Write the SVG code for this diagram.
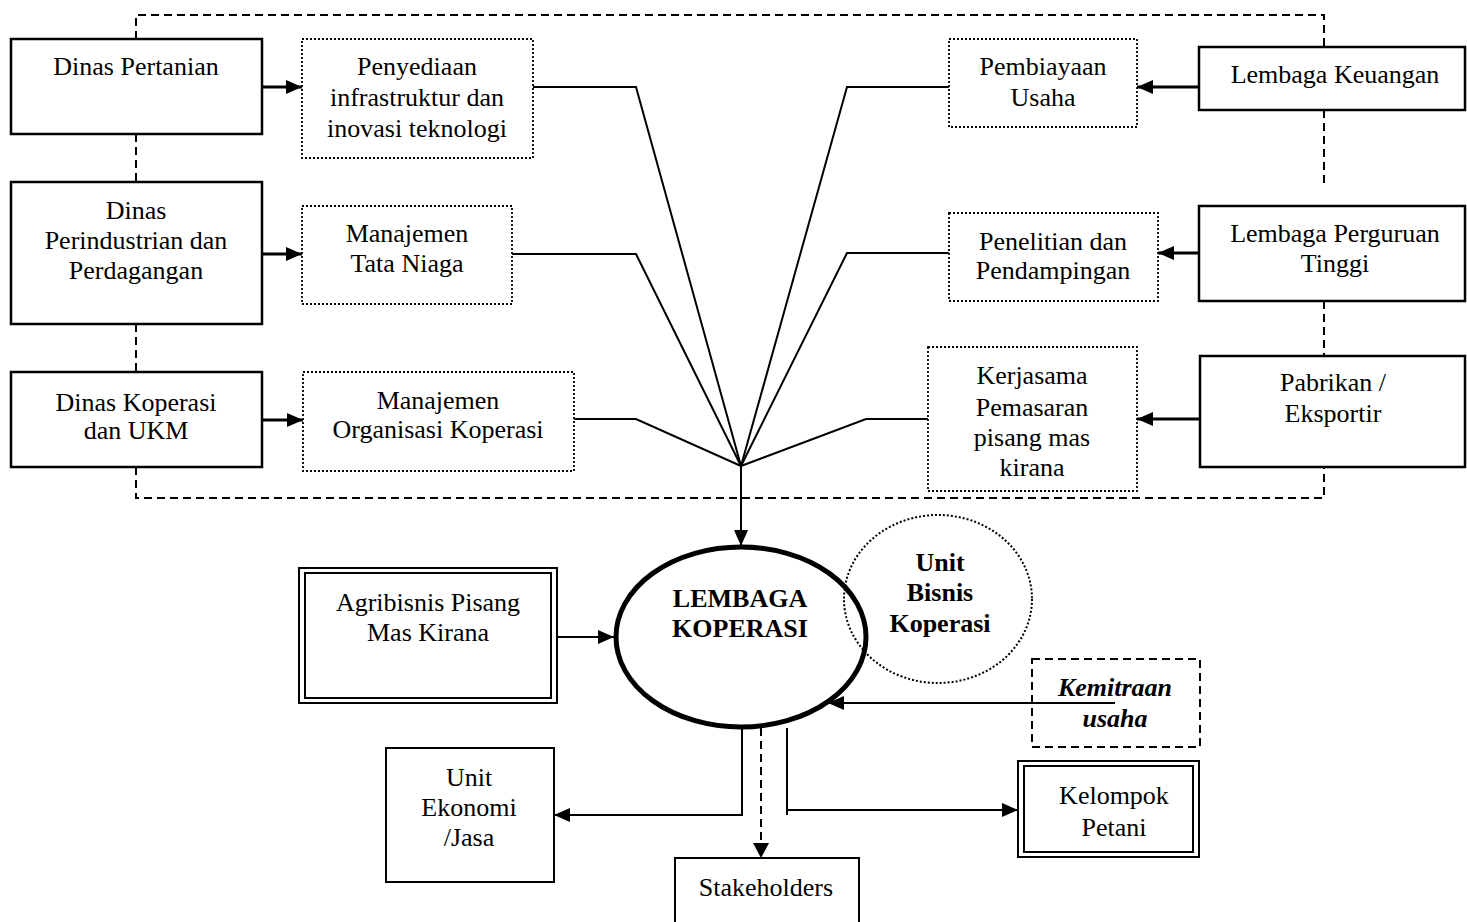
<svg xmlns="http://www.w3.org/2000/svg" width="1467" height="922" viewBox="0 0 1467 922">
<defs>
<marker id="ah" markerUnits="userSpaceOnUse" markerWidth="16" markerHeight="14" viewBox="0 0 16 14" refX="16" refY="7" orient="auto">
<path d="M0,0 L16,7 L0,14 Z" fill="#000"/>
</marker>
<style>
text{font-family:"Liberation Serif","Times New Roman",serif;font-size:26px;text-anchor:middle;fill:#000}
.b{font-weight:bold}
.bi{font-weight:bold;font-style:italic}
.box{fill:#fff;stroke:#000;stroke-width:2.5}
.dot{fill:#fff;stroke:#000;stroke-width:1.8;stroke-dasharray:2,2}
.dash{fill:none;stroke:#000;stroke-width:2;stroke-dasharray:8,5}
.ln{fill:none;stroke:#000;stroke-width:2}
.ar{fill:none;stroke:#000;stroke-width:3;marker-end:url(#ah)}
.ar2{fill:none;stroke:#000;stroke-width:2;marker-end:url(#ah)}
</style>
</defs>
<rect width="1467" height="922" fill="#fff"/>

<g id="frame">
<path class="dash" d="M136,39 V15 H1324 V47 M136,134 V182 M136,324 V372 M136,467 V498 H1324 V467 M1324,110 V188 M1324,301 V356"/>
</g>

<g id="connectors">
<path class="ln" d="M533,87 H636 L741,466"/>
<path class="ln" d="M512,254 H636 L741,466"/>
<path class="ln" d="M574,419 H636 L741,466"/>
<path class="ln" d="M949,87 H847 L741,466"/>
<path class="ln" d="M949,253 H847 L741,466"/>
<path class="ln" d="M928,419 H866 L741,466"/>
<path class="ar2" d="M741,466 V546"/>
<path class="ar" d="M262,87 H302"/>
<path class="ar" d="M262,254 H302"/>
<path class="ar" d="M262,420 H303"/>
<path class="ar" d="M1199,87 H1137"/>
<path class="ar" d="M1199,253 H1158"/>
<path class="ar" d="M1200,419 H1137"/>
<path class="ar2" d="M557,637 H614"/>
<path class="ar2" d="M1115,703 H828"/>
<path class="ar2" d="M742,728 V815 H554"/>
<path class="ln" d="M787,728 V815"/>
<path class="ar2" d="M787,810 H1018"/>
<path fill="none" stroke="#000" stroke-width="2" stroke-dasharray="8,5" d="M761,728 V845"/>
<path d="M753,843 L761,858 L769,843 Z" fill="#000"/>
</g>

<g id="dinas-pertanian">
<rect class="box" x="11" y="39" width="251" height="95"/>
<text x="136" y="75">Dinas Pertanian</text>
</g>
<g id="penyediaan">
<rect class="dot" x="302" y="39" width="231" height="119"/>
<text x="417" y="75">Penyediaan</text>
<text x="417" y="106">infrastruktur dan</text>
<text x="417" y="137">inovasi teknologi</text>
</g>
<g id="dinas-perindustrian">
<rect class="box" x="11" y="182" width="251" height="142"/>
<text x="136" y="219">Dinas</text>
<text x="136" y="249">Perindustrian dan</text>
<text x="136" y="279">Perdagangan</text>
</g>
<g id="tata-niaga">
<rect class="dot" x="302" y="206" width="210" height="98"/>
<text x="407" y="242">Manajemen</text>
<text x="407" y="272">Tata Niaga</text>
</g>
<g id="dinas-koperasi">
<rect class="box" x="11" y="372" width="251" height="95"/>
<text x="136" y="411">Dinas Koperasi</text>
<text x="136" y="439">dan UKM</text>
</g>
<g id="organisasi">
<rect class="dot" x="303" y="372" width="271" height="99"/>
<text x="438" y="409">Manajemen</text>
<text x="438" y="438">Organisasi Koperasi</text>
</g>
<g id="pembiayaan">
<rect class="dot" x="949" y="39" width="188" height="88"/>
<text x="1043" y="75">Pembiayaan</text>
<text x="1043" y="106">Usaha</text>
</g>
<g id="lembaga-keuangan">
<rect class="box" x="1199" y="47" width="266" height="63"/>
<text x="1335" y="83">Lembaga Keuangan</text>
</g>
<g id="penelitian">
<rect class="dot" x="949" y="213" width="209" height="88"/>
<text x="1053" y="250">Penelitian dan</text>
<text x="1053" y="279">Pendampingan</text>
</g>
<g id="perguruan-tinggi">
<rect class="box" x="1199" y="206" width="266" height="95"/>
<text x="1335" y="242">Lembaga Perguruan</text>
<text x="1335" y="272">Tinggi</text>
</g>
<g id="kerjasama">
<rect class="dot" x="928" y="347" width="209" height="144"/>
<text x="1032" y="384">Kerjasama</text>
<text x="1032" y="416">Pemasaran</text>
<text x="1032" y="446">pisang mas</text>
<text x="1032" y="476">kirana</text>
</g>
<g id="pabrikan">
<rect class="box" x="1200" y="356" width="265" height="111"/>
<text x="1333" y="391">Pabrikan /</text>
<text x="1333" y="422">Eksportir</text>
</g>

<g id="unit-bisnis">
<ellipse cx="938" cy="599" rx="94" ry="84" fill="none" stroke="#000" stroke-width="2" stroke-dasharray="2,2"/>
<text class="b" x="940" y="571">Unit</text>
<text class="b" x="940" y="601">Bisnis</text>
<text class="b" x="940" y="632">Koperasi</text>
</g>
<g id="lembaga-koperasi">
<ellipse cx="741" cy="637" rx="125" ry="90" fill="none" stroke="#000" stroke-width="5"/>
<text class="b" x="740" y="607">LEMBAGA</text>
<text class="b" x="740" y="637">KOPERASI</text>
</g>
<g id="agribisnis">
<rect x="299" y="568" width="258" height="135" fill="#fff" stroke="#000" stroke-width="2"/>
<rect x="305" y="573" width="246" height="125" fill="none" stroke="#000" stroke-width="2"/>
<text x="428" y="611">Agribisnis Pisang</text>
<text x="428" y="641">Mas Kirana</text>
</g>
<g id="kemitraan">
<rect class="dash" x="1032" y="659" width="168" height="88"/>
<text class="bi" x="1115" y="696">Kemitraan</text>
<text class="bi" x="1115" y="727">usaha</text>
</g>
<g id="unit-ekonomi">
<rect x="386" y="748" width="168" height="134" fill="#fff" stroke="#000" stroke-width="2"/>
<text x="469" y="786">Unit</text>
<text x="469" y="816">Ekonomi</text>
<text x="469" y="846">/Jasa</text>
</g>
<g id="stakeholders">
<rect x="675" y="858" width="184" height="70" fill="#fff" stroke="#000" stroke-width="2"/>
<text x="766" y="896">Stakeholders</text>
</g>
<g id="kelompok-petani">
<rect x="1018" y="761" width="181" height="96" fill="#fff" stroke="#000" stroke-width="2"/>
<rect x="1024" y="766" width="169" height="86" fill="none" stroke="#000" stroke-width="2"/>
<text x="1114" y="804">Kelompok</text>
<text x="1114" y="836">Petani</text>
</g>
</svg>
